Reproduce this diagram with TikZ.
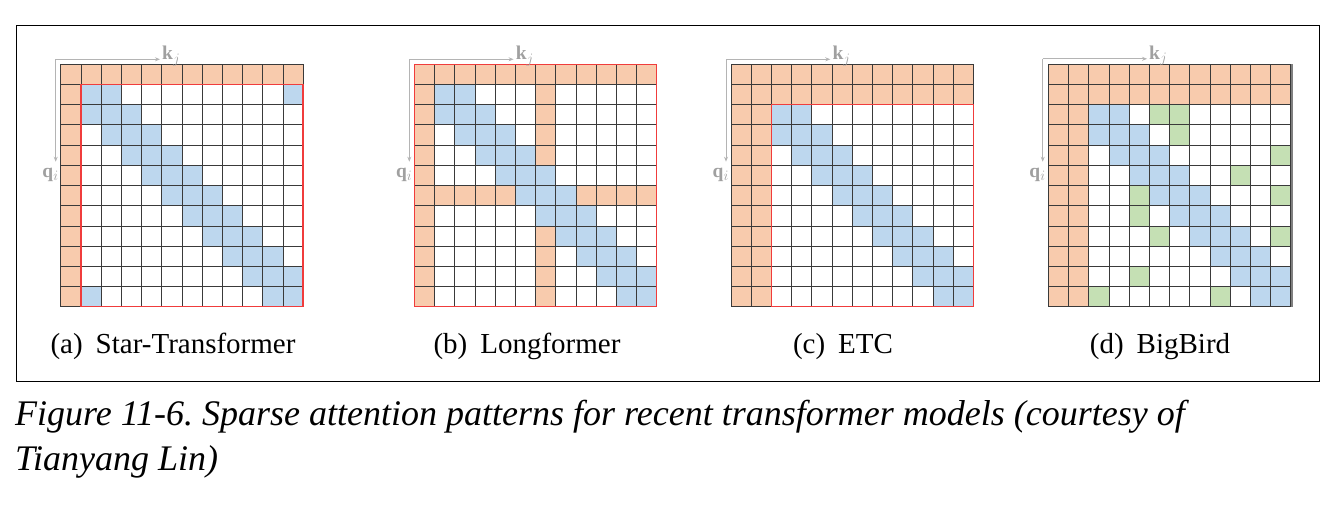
\documentclass[tikz,border=0pt]{standalone}
\usepackage{fontspec}
\setmainfont{Liberation Serif}
\usetikzlibrary{arrows.meta}
\frenchspacing
\definecolor{cOrange}{HTML}{F8CBAD}
\definecolor{cBlue}{HTML}{BDD7EE}
\definecolor{cGreen}{HTML}{C5E0B4}
\definecolor{cRed}{HTML}{F03C3C}
\definecolor{cGridline}{HTML}{3A3A3A}
\definecolor{cAxis}{HTML}{B4B4B4}
\definecolor{cAxisText}{HTML}{A0A0A0}
\tikzset{
 orangecell/.style={fill=cOrange},
 bluecell/.style={fill=cBlue},
 greencell/.style={fill=cGreen},
 gridline/.style={draw=cGridline, line width=0.8pt},
 redbox/.style={draw=cRed, line width=1.4pt},
 axisline/.style={draw=cAxis, line width=0.9pt, -{Stealth[length=5pt,width=4pt]}},
 axislabel/.style={text=cAxisText, inner sep=0pt, font=\fontsize{19.5}{19.5}\selectfont},
 sublabel/.style={inner sep=0pt, anchor=base, font=\fontsize{29}{29}\selectfont},
 captext/.style={inner sep=0pt, anchor=base west, font=\fontsize{36}{36}\selectfont\itshape},
}
\newcommand{\gridlinesdraw}{\foreach \i in {0,...,12}{\draw[gridline] (\i,0)--(\i,12); \draw[gridline] (0,\i)--(12,\i);}}
\newcommand{\cellat}[3]{\fill[#1] (#2,#3) rectangle ++(1,1);}
\begin{document}
\begin{tikzpicture}[x=1pt,y=-1pt]
\useasboundingbox (0,0) rectangle (1343,505);
\draw[line width=1.5pt] (16.7,25.7) rectangle (1319.3,381.3);

% (a) Star-Transformer
\begin{scope}[shift={(60.7,64.3)},x=20.2pt,y=-20.2pt]
 \fill[orangecell] (0,0) rectangle (12,1);
 \fill[orangecell] (0,0) rectangle (1,12);
 \foreach \r in {2,...,10}{\foreach \d in {-1,0,1}{\pgfmathtruncatemacro\c{\r+\d}\cellat{bluecell}{\c}{\r}}}
 \foreach \c/\r in {1/1,2/1,11/1,10/11,11/11,1/11}{\cellat{bluecell}{\c}{\r}}
 \gridlinesdraw
 \draw[redbox] (1,1) rectangle (12,12);
\end{scope}
\coordinate (a-o) at (55.7,59.3);
\coordinate (a-kend) at (160,59.3);
\coordinate (a-qend) at (55.7,161.7);
\draw[axisline] (a-o) -- (a-kend);
\draw[axisline] (a-o) -- (a-qend);
\node[axislabel, anchor=base west] (a-k) at (162,60) {$\mathbf{k}_j$};
\node[axislabel, anchor=base] (a-q) at (50.5,177.5) {$\mathbf{q}_i$};
\node[sublabel] (a-lab) at (173,353) {(a)\hspace{0.45em}Star-Transformer};

% (b) Longformer
\begin{scope}[shift={(414.3,64.3)},x=20.2pt,y=-20.2pt]
 \fill[orangecell] (0,0) rectangle (12,1);
 \fill[orangecell] (0,0) rectangle (1,12);
 \fill[orangecell] (0,6) rectangle (12,7);
 \fill[orangecell] (6,0) rectangle (7,12);
 \foreach \r in {2,...,10}{\foreach \d in {-1,0,1}{\pgfmathtruncatemacro\c{\r+\d}\cellat{bluecell}{\c}{\r}}}
 \foreach \c/\r in {1/1,2/1,10/11,11/11}{\cellat{bluecell}{\c}{\r}}
 \gridlinesdraw
 \draw[redbox] (0,0) rectangle (12,12);
\end{scope}
\coordinate (b-o) at (409.3,59.3);
\coordinate (b-kend) at (513.6,59.3);
\coordinate (b-qend) at (409.3,161.7);
\draw[axisline] (b-o) -- (b-kend);
\draw[axisline] (b-o) -- (b-qend);
\node[axislabel, anchor=base west] (b-k) at (515.6,60) {$\mathbf{k}_j$};
\node[axislabel, anchor=base] (b-q) at (404.1,177.5) {$\mathbf{q}_i$};
\node[sublabel] (b-lab) at (527,353) {(b)\hspace{0.45em}Longformer};

% (c) ETC
\begin{scope}[shift={(731,64.3)},x=20.2pt,y=-20.2pt]
 \fill[orangecell] (0,0) rectangle (12,2);
 \fill[orangecell] (0,0) rectangle (2,12);
 \foreach \r in {3,...,10}{\foreach \d in {-1,0,1}{\pgfmathtruncatemacro\c{\r+\d}\cellat{bluecell}{\c}{\r}}}
 \foreach \c/\r in {2/2,3/2,10/11,11/11}{\cellat{bluecell}{\c}{\r}}
 \gridlinesdraw
 \draw[redbox] (2,2) rectangle (12,12);
\end{scope}
\coordinate (c-o) at (726,59.3);
\coordinate (c-kend) at (830.3,59.3);
\coordinate (c-qend) at (726,161.7);
\draw[axisline] (c-o) -- (c-kend);
\draw[axisline] (c-o) -- (c-qend);
\node[axislabel, anchor=base west] (c-k) at (832.3,60) {$\mathbf{k}_j$};
\node[axislabel, anchor=base] (c-q) at (720.8,177.5) {$\mathbf{q}_i$};
\node[sublabel] (c-lab) at (843,353) {(c)\hspace{0.45em}ETC};

% (d) BigBird
\begin{scope}[shift={(1048.3,64.3)},x=20.2pt,y=-20.2pt]
 \fill[orangecell] (0,0) rectangle (12,2);
 \fill[orangecell] (0,0) rectangle (2,12);
 \foreach \r in {3,...,10}{\foreach \d in {-1,0,1}{\pgfmathtruncatemacro\c{\r+\d}\cellat{bluecell}{\c}{\r}}}
 \foreach \c/\r in {2/2,3/2,10/11,11/11}{\cellat{bluecell}{\c}{\r}}
 \foreach \c/\r in {5/2,6/2,6/3,11/4,9/5,4/6,11/6,4/7,5/8,11/8,4/10,2/11,8/11}{\cellat{greencell}{\c}{\r}}
 \gridlinesdraw
 \draw[draw=gray, line width=1.6pt] (12.05,0) -- (12.05,12);
\end{scope}
\coordinate (d-o) at (1042.7,58.8);
\coordinate (d-kend) at (1147,58.8);
\coordinate (d-qend) at (1042.7,161.7);
\draw[axisline] (d-o) -- (d-kend);
\draw[axisline] (d-o) -- (d-qend);
\node[axislabel, anchor=base west] (d-k) at (1149,59.5) {$\mathbf{k}_j$};
\node[axislabel, anchor=base] (d-q) at (1037.5,177.5) {$\mathbf{q}_i$};
\node[sublabel] (d-lab) at (1160,353) {(d)\hspace{0.45em}BigBird};

% caption
\node[captext] (cap1) at (15,425) {Figure 11-6. Sparse attention patterns for recent transformer models (courtesy of};
\node[captext] (cap2) at (15,470) {Tianyang Lin)};
\end{tikzpicture}
\end{document}
